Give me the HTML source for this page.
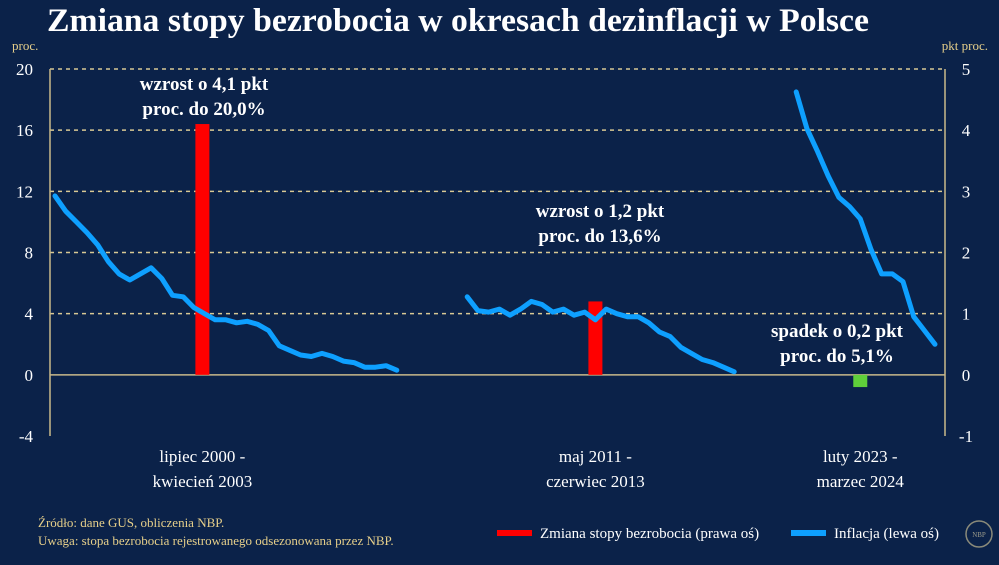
<!DOCTYPE html>
<html><head><meta charset="utf-8">
<style>
html,body{margin:0;padding:0;background:#0b2249;}
body{width:999px;height:560px;overflow:hidden;font-family:"Liberation Serif",serif;}
svg text{font-family:"Liberation Serif",serif;}
</style></head>
<body>
<svg id="chart" width="999" height="560" viewBox="0 0 999 560" xmlns="http://www.w3.org/2000/svg">
<rect width="999" height="560" fill="#0b2249"/>
<text x="458" y="31" text-anchor="middle" font-size="33" font-weight="bold" fill="#fff" textLength="822" lengthAdjust="spacingAndGlyphs">Zmiana stopy bezrobocia w okresach dezinflacji w Polsce</text>
<text x="12" y="50" font-size="13" fill="#e6cf8a">proc.</text>
<text x="988" y="50" text-anchor="end" font-size="13" fill="#e6cf8a">pkt proc.</text>
<g id="grid"></g>
<g id="marks"></g>
<g id="labels"></g>
<g font-size="19" font-weight="bold" fill="#fff" text-anchor="middle">
<text x="204" y="90">wzrost o 4,1 pkt</text><text x="204" y="115">proc. do 20,0%</text></g>
<g font-size="19" font-weight="bold" fill="#fff" text-anchor="middle">
<text x="600" y="217">wzrost o 1,2 pkt</text><text x="600" y="242">proc. do 13,6%</text></g>
<g font-size="19" font-weight="bold" fill="#fff" text-anchor="middle">
<text x="837" y="337">spadek o 0,2 pkt</text><text x="837" y="362">proc. do 5,1%</text></g>
<text x="38" y="527" font-size="13" fill="#e6cf8a">Źródło: dane GUS, obliczenia NBP.</text>
<text x="38" y="545" font-size="13" fill="#e6cf8a">Uwaga: stopa bezrobocia rejestrowanego odsezonowana przez NBP.</text>
<rect x="497" y="530" width="35" height="6" fill="#ff0000"/>
<text x="540" y="538" font-size="15" fill="#fff">Zmiana stopy bezrobocia (prawa oś)</text>
<rect x="791" y="530" width="35" height="6" fill="#0ea0ff"/>
<text x="834" y="538" font-size="15" fill="#fff">Inflacja (lewa oś)</text>
<g><circle cx="979" cy="534" r="13" fill="none" stroke="#8a8a7a" stroke-width="1.5"/><text x="979" y="537" font-size="7" text-anchor="middle" fill="#9a9a8a">NBP</text></g>
</svg>
<script>
const leftTicks=[20,16,12,8,4,0,-4];
const rightTicks=[5,4,3,2,1,0,-1];
const seg1Start=0;
const seg1=[11.7,10.7,10.0,9.3,8.5,7.4,6.6,6.2,6.6,7.0,6.3,5.2,5.1,4.4,4.0,3.6,3.6,3.4,3.5,3.3,2.9,1.9,1.6,1.3,1.2,1.4,1.2,0.9,0.8,0.5,0.5,0.6,0.3];
const seg2Start=38.6;
const seg2=[5.1,4.2,4.1,4.3,3.9,4.3,4.8,4.6,4.1,4.3,3.9,4.1,3.6,4.3,4.0,3.8,3.8,3.4,2.8,2.5,1.8,1.4,1.0,0.8,0.5,0.2];
const seg3Start=69.4;
const seg3=[18.5,16.1,14.6,13.0,11.6,11.0,10.2,8.2,6.6,6.6,6.1,3.8,2.9,2.0];
const barIndex=[13.8,50.6,75.4];
const barValues=[4.1,1.2,-0.2];
const periodLine1=["lipiec 2000 -","maj 2011 -","luty 2023 -"];
const periodLine2=["kwiecień 2003","czerwiec 2013","marzec 2024"];

const NS="http://www.w3.org/2000/svg";
const L=50,R=945,T=69,B=436;
const yL=v=>B-(v+4)/24*(B-T);
const yR=v=>B-(v+1)/6*(B-T);
const xI=i=>55+i*10.68;
function mk(tag,attrs,parent){const e=document.createElementNS(NS,tag);for(const k in attrs)e.setAttribute(k,attrs[k]);parent.appendChild(e);return e;}
const grid=document.getElementById('grid'),marks=document.getElementById('marks'),labels=document.getElementById('labels');
leftTicks.forEach((t,k)=>{
  const y=yL(t);
  if(t>0){const g=mk('line',{x1:L,x2:R,y1:y,y2:y,stroke:'#d8c894','stroke-width':1.5,'stroke-dasharray':'4,4'},grid);
  
  }
  const tl=mk('text',{x:33,y:y+6,'text-anchor':'end','font-size':17,fill:'#fff'},labels);tl.textContent=t;
  
  
  const tr=mk('text',{x:966,y:yR(rightTicks[k])+6,'text-anchor':'middle','font-size':17,fill:'#fff'},labels);tr.textContent=rightTicks[k];
  
  
});
const ax=[[L,T,L,B],[R,T,R,B],[L,yL(0),R,yL(0)]];
ax.forEach(a=>{const l=mk('line',{x1:a[0],y1:a[1],x2:a[2],y2:a[3],stroke:'#c9b98a','stroke-width':1.5},grid);

});
barValues.forEach((v,k)=>{
  const y0=yR(0),y1=yR(v);
  const r=mk('rect',{x:xI(barIndex[k])-7,y:Math.min(y0,y1),width:14,height:Math.abs(y1-y0),fill:v>=0?'#ff0000':'#5fcf3a'},marks);
  
  
  const a=mk('text',{x:xI(barIndex[k]),y:462,'text-anchor':'middle','font-size':17,fill:'#fff'},labels);a.textContent=periodLine1[k];
  
  
  const b=mk('text',{x:xI(barIndex[k]),y:487,'text-anchor':'middle','font-size':17,fill:'#fff'},labels);b.textContent=periodLine2[k];
  
  
});
[[seg1Start,seg1],[seg2Start,seg2],[seg3Start,seg3]].forEach(([s,arr])=>{
  const d=arr.map((v,i)=>(i?'L':'M')+xI(s+i).toFixed(1)+','+yL(v).toFixed(1)).join(' ');
  const p=mk('path',{d:d,fill:'none',stroke:'#0ea0ff','stroke-width':5,'stroke-linejoin':'round','stroke-linecap':'round'},marks);
  
  
});
</script>
</body></html>
